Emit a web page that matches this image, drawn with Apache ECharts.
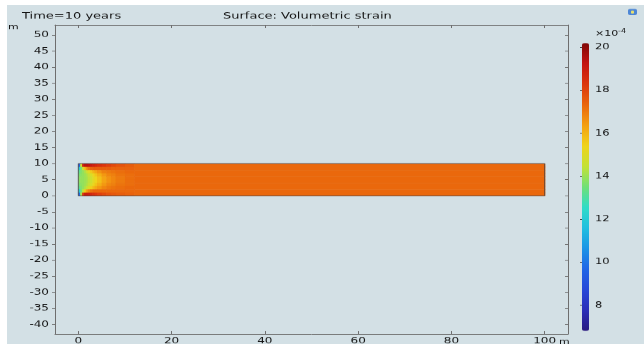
<!DOCTYPE html>
<html>
<head>
<meta charset="utf-8">
<script src="https://cdn.jsdelivr.net/npm/echarts@6/dist/echarts.min.js"></script>
<style>
  html, body { margin: 0; padding: 0; background: #ffffff; overflow: hidden; }
  #frame { width: 644px; height: 349px; overflow: hidden; }
  /* COMSOL-style export with a wide pixel aspect: the chart is laid out on a
     taller canvas and compressed vertically, so glyphs come out wide and flat. */
  #chart { width: 644px; height: 489px; transform: scaleY(0.713701); transform-origin: 0 0; }
</style>
</head>
<body>
<div id="frame"><div id="chart"></div></div>
<script>
// ---- text ----
const timeLabel = 'Time=10 years';
const plotLabel = 'Surface: Volumetric strain';
const lengthUnit = 'm';
const strainScaleBase = '\u00d710';
const strainScaleExp = '-4';

// ---- axis ticks ----
const xTicks = [0, 20, 40, 60, 80, 100];
const yTicks = [-40, -35, -30, -25, -20, -15, -10, -5, 0, 5, 10, 15, 20, 25, 30, 35, 40, 45, 50];
const strainTicks = [8, 10, 12, 14, 16, 18, 20];

// ---- axis ranges (m) and colour range (x 1e-4) ----
const xRange = [-5, 105];
const yRange = [-43, 53.1];
const strainRange = [6.8, 20.2];

// ---- strain field over the 100 m x 10 m domain (values x 1e-4) ----
// column edges along x (m) and row edges along y (m, top to bottom)
const xEdges = [0, 0.4, 0.8, 1.2, 1.6, 2, 2.5, 3, 3.5, 4, 5, 6, 7, 8, 10, 12, 100];
const yEdges = [10, 9, 8, 7, 6, 5, 4, 3, 2, 1, 0];
// one list per column, rows listed from y = 10 down to y = 0
const strainColumns = [
  [9.5, 12.0, 13.2, 13.6, 13.8, 13.8, 13.6, 13.2, 12.0, 9.8],
  [14.8, 13.6, 13.7, 13.8, 13.9, 13.9, 13.8, 13.7, 13.6, 14.2],
  [18.8, 14.6, 13.9, 13.9, 13.9, 13.9, 13.9, 13.9, 14.4, 18.2],
  [19.4, 15.8, 14.2, 14.0, 14.0, 14.0, 14.0, 14.2, 15.5, 19.0],
  [19.4, 16.6, 14.6, 14.2, 14.1, 14.1, 14.2, 14.5, 16.3, 19.0],
  [19.3, 17.1, 15.1, 14.5, 14.4, 14.4, 14.5, 15.0, 16.8, 18.9],
  [19.1, 17.4, 15.6, 14.9, 14.7, 14.7, 14.9, 15.5, 17.1, 18.7],
  [18.9, 17.5, 16.0, 15.3, 15.1, 15.1, 15.3, 15.9, 17.3, 18.5],
  [18.7, 17.5, 16.3, 15.7, 15.4, 15.4, 15.7, 16.2, 17.3, 18.3],
  [18.5, 17.5, 16.6, 16.1, 15.8, 15.8, 16.1, 16.5, 17.3, 18.1],
  [18.3, 17.5, 16.9, 16.5, 16.3, 16.3, 16.5, 16.8, 17.3, 17.9],
  [18.1, 17.5, 17.0, 16.8, 16.6, 16.6, 16.8, 17.0, 17.3, 17.7],
  [17.9, 17.4, 17.1, 16.9, 16.8, 16.8, 16.9, 17.1, 17.3, 17.6],
  [17.7, 17.4, 17.2, 17.1, 17.0, 17.0, 17.1, 17.2, 17.3, 17.5],
  [17.5, 17.4, 17.3, 17.2, 17.2, 17.2, 17.2, 17.3, 17.3, 17.4],
  [17.3, 17.3, 17.3, 17.3, 17.3, 17.3, 17.3, 17.3, 17.3, 17.3]
];
// domain outline [x0, x1, y0, y1]
const domain = [0, 100, 0, 10];

// rainbow colour table, evenly spread over strainRange
const rainbow = [
  '#2a1a80', '#2b2eb8', '#2848d8', '#2066e6', '#1c94e6', '#20bfe0', '#30dcc8', '#70e078',
  '#c4e236', '#f0d41a', '#f4a012', '#ea660c', '#dc360e', '#c41410', '#800808'
];

// ---- build cell records [x0, x1, y0, y1, strain] ----
const cells = [];
strainColumns.forEach(function (col, i) {
  col.forEach(function (v, r) {
    cells.push([xEdges[i], xEdges[i + 1], yEdges[r + 1], yEdges[r], v]);
  });
});

const SY = 489 / 349;          // vertical stretch of the canvas
const FONT = 'DejaVu Sans';
const INK = '#141414';
const AXIS = '#6e6e6e';
const PANEL = '#d3e0e5';

function renderCell(params, api) {
  const a = api.coord([api.value(0), api.value(3)]);
  const b = api.coord([api.value(1), api.value(2)]);
  return {
    type: 'rect',
    shape: { x: a[0], y: a[1], width: b[0] - a[0] + 0.6, height: b[1] - a[1] + 0.6 },
    style: { fill: api.visual('color') }
  };
}

function renderOutline(params, api) {
  const a = api.coord([api.value(0), api.value(3)]);
  const b = api.coord([api.value(1), api.value(2)]);
  return {
    type: 'rect',
    shape: { x: a[0], y: a[1], width: b[0] - a[0], height: b[1] - a[1] },
    style: { fill: null, stroke: 'rgba(70,60,60,0.8)', lineWidth: 1 }
  };
}

const labelStyle = { fontFamily: FONT, fontSize: 12, color: INK };

const chart = echarts.init(document.getElementById('chart'), null, { renderer: 'canvas' });
chart.setOption({
  animation: false,
  backgroundColor: PANEL,
  grid: [
    { left: 55, top: 25 * SY, width: 513, height: 309 * SY, show: false },
    { left: 582, top: 43 * SY, width: 7, height: 288 * SY, show: false }
  ],
  xAxis: [
    {
      type: 'value', gridIndex: 0, position: 'bottom', min: xRange[0], max: xRange[1],
      axisLine: { show: true, onZero: false, lineStyle: { color: AXIS, width: 1 } },
      axisTick: { show: true, inside: true, length: 4, customValues: xTicks, lineStyle: { color: AXIS } },
      axisLabel: Object.assign({ margin: 4, customValues: xTicks }, labelStyle),
      splitLine: { show: false }
    },
    {
      type: 'value', gridIndex: 0, position: 'top', min: xRange[0], max: xRange[1],
      axisLine: { show: true, onZero: false, lineStyle: { color: AXIS, width: 1 } },
      axisTick: { show: true, inside: true, length: 4, customValues: xTicks, lineStyle: { color: AXIS } },
      axisLabel: { show: false },
      splitLine: { show: false }
    },
    { type: 'value', gridIndex: 1, show: false, min: 0, max: 1 }
  ],
  yAxis: [
    {
      type: 'value', gridIndex: 0, position: 'left', min: yRange[0], max: yRange[1],
      axisLine: { show: true, onZero: false, lineStyle: { color: AXIS, width: 1 } },
      axisTick: { show: true, inside: false, length: 3, customValues: yTicks, lineStyle: { color: AXIS } },
      axisLabel: Object.assign({ margin: 6, customValues: yTicks }, labelStyle),
      splitLine: { show: false }
    },
    {
      type: 'value', gridIndex: 0, position: 'right', min: yRange[0], max: yRange[1],
      axisLine: { show: true, onZero: false, lineStyle: { color: AXIS, width: 1 } },
      axisTick: { show: true, inside: true, length: 3, customValues: yTicks, lineStyle: { color: AXIS } },
      axisLabel: { show: false },
      splitLine: { show: false }
    },
    {
      type: 'value', gridIndex: 1, position: 'right', min: strainRange[0], max: strainRange[1],
      axisLine: { show: false },
      axisTick: { show: true, inside: true, length: 2, customValues: strainTicks, lineStyle: { color: '#444' } },
      axisLabel: Object.assign({ margin: 6, customValues: strainTicks }, labelStyle, { fontSize: 11.5 }),
      splitLine: { show: false }
    }
  ],
  visualMap: {
    type: 'continuous',
    seriesIndex: 0,
    dimension: 4,
    min: strainRange[0],
    max: strainRange[1],
    inRange: { color: rainbow },
    calculable: false,
    hoverLink: false,
    padding: 0,
    left: 582,
    top: 43 * SY,
    itemWidth: 7,
    itemHeight: 288 * SY,
    textStyle: { color: 'transparent' }
  },
  series: [
    {
      type: 'custom', name: 'Volumetric strain', xAxisIndex: 0, yAxisIndex: 0,
      renderItem: renderCell, data: cells,
      encode: { x: [0, 1], y: [2, 3] }, silent: true
    },
    {
      type: 'custom', name: 'Domain', xAxisIndex: 0, yAxisIndex: 0,
      renderItem: renderOutline, data: [domain],
      encode: { x: [0, 1], y: [2, 3] }, silent: true, z: 3
    }
  ],
  graphic: [
    // white margins round the panel
    { type: 'rect', silent: true, z: 100, shape: { x: 0, y: 0, width: 7, height: 489 }, style: { fill: '#ffffff' } },
    { type: 'rect', silent: true, z: 100, shape: { x: 0, y: 0, width: 644, height: 5 * SY }, style: { fill: '#ffffff' } },
    { type: 'rect', silent: true, z: 100, shape: { x: 0, y: 344 * SY, width: 644, height: 10 * SY }, style: { fill: '#ffffff' } },
    // window icon
    { type: 'rect', silent: true, z: 100, shape: { x: 628, y: 9 * SY, width: 9, height: 6 * SY, r: 2 }, style: { fill: '#4d86d6' } },
    { type: 'rect', silent: true, z: 101, shape: { x: 631, y: 10.5 * SY, width: 3, height: 3 * SY, r: 1 }, style: { fill: '#e8e070' } },
    // headings
    { type: 'text', z: 100, x: 22, y: 16 * SY,
      style: { text: timeLabel, fontFamily: FONT, fontSize: 13, fill: INK, verticalAlign: 'middle', textVerticalAlign: 'middle' } },
    { type: 'text', z: 100, x: 223, y: 16 * SY,
      style: { text: plotLabel, fontFamily: FONT, fontSize: 13, fill: INK, verticalAlign: 'middle', textVerticalAlign: 'middle' } },
    // axis units
    { type: 'text', z: 100, x: 8, y: 27 * SY,
      style: { text: lengthUnit, fontFamily: FONT, fontSize: 11, fill: INK, verticalAlign: 'middle', textVerticalAlign: 'middle' } },
    { type: 'text', z: 100, x: 559, y: 342 * SY,
      style: { text: lengthUnit, fontFamily: FONT, fontSize: 11, fill: INK, verticalAlign: 'middle', textVerticalAlign: 'middle' } },
    // colour bar multiplier
    { type: 'text', z: 100, x: 595, y: 34 * SY,
      style: { text: strainScaleBase, fontFamily: FONT, fontSize: 11, fill: INK, verticalAlign: 'middle', textVerticalAlign: 'middle' } },
    { type: 'text', z: 100, x: 618, y: 31 * SY,
      style: { text: strainScaleExp, fontFamily: FONT, fontSize: 8, fill: INK, verticalAlign: 'middle', textVerticalAlign: 'middle' } }
  ]
});
</script>
</body>
</html>
